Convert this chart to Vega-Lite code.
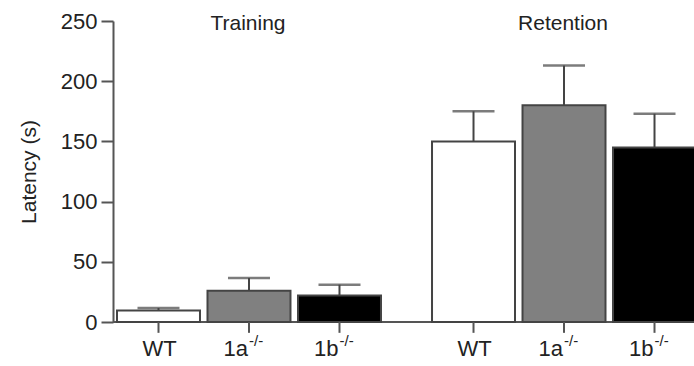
{
  "$schema": "https://vega.github.io/schema/vega-lite/v6.json",
  "width": 581,
  "height": 301,
  "autosize": "none",
  "padding": {"left": 113, "top": 21, "right": 0, "bottom": 44},
  "background": "white",
  "config": {"view": {"stroke": null}, "font": "Liberation Sans"},
  "data": {"values": [
    {"group": "Training", "genotype": "WT", "sup": "", "latency": 9.5, "err": 11.6},
    {"group": "Training", "genotype": "1a", "sup": "-/-", "latency": 26, "err": 36.5},
    {"group": "Training", "genotype": "1b", "sup": "-/-", "latency": 22, "err": 31},
    {"group": "Retention", "genotype": "WT", "sup": "", "latency": 150, "err": 175},
    {"group": "Retention", "genotype": "1a", "sup": "-/-", "latency": 180, "err": 213},
    {"group": "Retention", "genotype": "1b", "sup": "-/-", "latency": 145, "err": 173}
  ]},
  "layer": [
    {
      "mark": {"type": "rule", "color": "#555", "strokeWidth": 2},
      "encoding": {"y": {"datum": 0, "type": "quantitative"}}
    },
    {
      "mark": {"type": "bar", "stroke": "#444", "strokeWidth": 2},
      "encoding": {
        "x": {"field": "group", "type": "nominal", "sort": ["Training", "Retention"], "scale": {"range": [4, 583], "paddingInner": 0.162, "paddingOuter": 0}, "axis": null},
        "xOffset": {"field": "genotype", "type": "nominal", "sort": ["WT", "1a", "1b"], "scale": {"paddingInner": 0.083, "paddingOuter": 0}},
        "y": {"field": "latency", "type": "quantitative", "scale": {"domain": [0, 250], "nice": false},
          "axis": {"values": [0, 50, 100, 150, 200, 250], "title": "Latency (s)", "titleFontSize": 21, "titleFontWeight": "normal", "titleColor": "#222", "titlePadding": 21,
            "labelFontSize": 22, "labelColor": "#222", "labelPadding": 4, "tickSize": 12, "tickWidth": 2, "tickColor": "#555", "domainColor": "#555", "domainWidth": 2, "grid": false}},
        "color": {"field": "genotype", "type": "nominal", "scale": {"domain": ["WT", "1a", "1b"], "range": ["#ffffff", "#808080", "#000000"]}, "legend": null}
      }
    },
    {
      "mark": {"type": "rule", "color": "#444", "strokeWidth": 2},
      "encoding": {
        "x": {"field": "group", "type": "nominal", "sort": ["Training", "Retention"]},
        "xOffset": {"field": "genotype", "type": "nominal", "sort": ["WT", "1a", "1b"]},
        "y": {"field": "latency", "type": "quantitative"},
        "y2": {"field": "err"}
      }
    },
    {
      "mark": {"type": "tick", "color": "#444", "thickness": 2.5, "size": 42},
      "encoding": {
        "x": {"field": "group", "type": "nominal", "sort": ["Training", "Retention"]},
        "xOffset": {"field": "genotype", "type": "nominal", "sort": ["WT", "1a", "1b"]},
        "y": {"field": "err", "type": "quantitative"}
      }
    },
    {
      "mark": {"type": "rule", "color": "#555", "strokeWidth": 2},
      "encoding": {
        "x": {"field": "group", "type": "nominal", "sort": ["Training", "Retention"]},
        "xOffset": {"field": "genotype", "type": "nominal", "sort": ["WT", "1a", "1b"]},
        "y": {"datum": 0, "type": "quantitative"},
        "y2": {"datum": -9}
      }
    },
    {
      "transform": [{"filter": "datum.genotype === 'WT'"}],
      "mark": {"type": "text", "fontSize": 22, "color": "#222", "align": "center", "baseline": "alphabetic", "dy": 34, "dx": 1},
      "encoding": {
        "x": {"field": "group", "type": "nominal", "sort": ["Training", "Retention"]},
        "xOffset": {"field": "genotype", "type": "nominal", "sort": ["WT", "1a", "1b"]},
        "y": {"datum": 0, "type": "quantitative"},
        "text": {"field": "genotype"}
      }
    },
    {
      "transform": [{"filter": "datum.genotype !== 'WT'"}],
      "mark": {"type": "text", "fontSize": 22, "color": "#222", "align": "right", "baseline": "alphabetic", "dy": 34, "dx": -1},
      "encoding": {
        "x": {"field": "group", "type": "nominal", "sort": ["Training", "Retention"]},
        "xOffset": {"field": "genotype", "type": "nominal", "sort": ["WT", "1a", "1b"]},
        "y": {"datum": 0, "type": "quantitative"},
        "text": {"field": "genotype"}
      }
    },
    {
      "transform": [{"filter": "datum.genotype !== 'WT'"}],
      "mark": {"type": "text", "fontSize": 15, "color": "#222", "align": "left", "baseline": "alphabetic", "dy": 24, "dx": 0},
      "encoding": {
        "x": {"field": "group", "type": "nominal", "sort": ["Training", "Retention"]},
        "xOffset": {"field": "genotype", "type": "nominal", "sort": ["WT", "1a", "1b"]},
        "y": {"datum": 0, "type": "quantitative"},
        "text": {"field": "sup"}
      }
    },
    {
      "transform": [{"filter": "datum.genotype === '1a'"}],
      "mark": {"type": "text", "fontSize": 21, "color": "#222", "align": "center", "baseline": "alphabetic", "dy": 9, "dx": -1},
      "encoding": {
        "x": {"field": "group", "type": "nominal", "sort": ["Training", "Retention"]},
        "y": {"datum": 250, "type": "quantitative"},
        "text": {"field": "group"}
      }
    }
  ]
}
